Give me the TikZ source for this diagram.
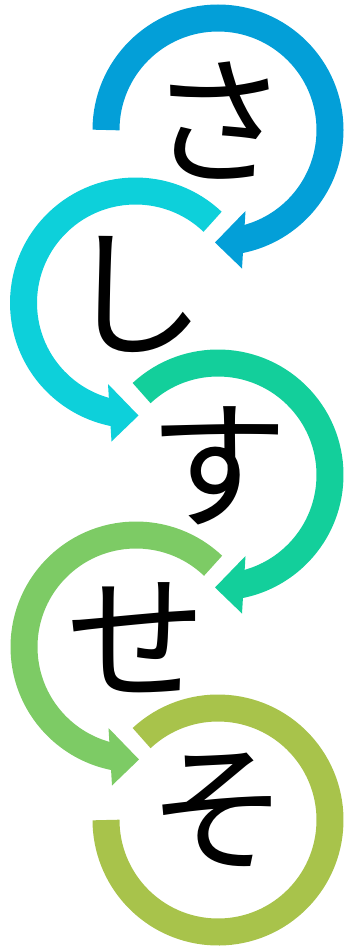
\documentclass[tikz,border=0pt]{standalone}
\usepackage{fontspec}
\usetikzlibrary{calc}
\newfontfamily\cjk{Noto Sans CJK JP}
\definecolor{cA}{HTML}{039FD8}
\definecolor{cB}{HTML}{0DD0DA}
\definecolor{cC}{HTML}{13CF9B}
\definecolor{cD}{HTML}{7DCB65}
\definecolor{cE}{HTML}{A8C34B}
\tikzset{
  ring/.style={line width=27pt, line cap=butt},
  kana/.style={font=\cjk\fontsize{140pt}{140pt}\selectfont, text=black, inner sep=0pt, yshift=9pt},
}
\begin{document}
\begin{tikzpicture}[x=1pt,y=1pt]
\useasboundingbox (0,0) rectangle (344,-946);
% centers
\coordinate (c1) at (218,-130);
\coordinate (c2) at (135.5,-303);
\coordinate (c3) at (218,-475);
\coordinate (c4) at (136,-647);
\coordinate (c5) at (218,-820);
% ring 1 (clockwise)
\draw[ring, cA] ($(c1)+(180:112)$) arc[start angle=180, end angle=-79, radius=112];
\fill[cA] ($(c1)+(-3,-112.5)$) -- ($(c1)+(27.5,-81)$) -- ($(c1)+(24,-138.5)$) -- cycle;
% ring 2 (counterclockwise)
\draw[ring, cB] ($(c2)+(46.5:112)$) arc[start angle=46.5, end angle=259, radius=112];
\fill[cB] ($(c2)+(3,-112.5)$) -- ($(c2)+(-27.5,-81)$) -- ($(c2)+(-24,-138.5)$) -- cycle;
% ring 3 (clockwise)
\draw[ring, cC] ($(c3)+(133:112)$) arc[start angle=133, end angle=-79, radius=112];
\fill[cC] ($(c3)+(-3,-112.5)$) -- ($(c3)+(27.5,-81)$) -- ($(c3)+(24,-138.5)$) -- cycle;
% ring 4 (counterclockwise)
\draw[ring, cD] ($(c4)+(46.5:112)$) arc[start angle=46.5, end angle=259, radius=112];
\fill[cD] ($(c4)+(3,-112.5)$) -- ($(c4)+(-27.5,-81)$) -- ($(c4)+(-24,-138.5)$) -- cycle;
% ring 5
\draw[ring, cE] ($(c5)+(133:112)$) arc[start angle=133, end angle=-180, radius=112];
% letters
\node[kana] (k1) at (c1) {さ};
\node[kana] (k2) at (c2) {し};
\node[kana] (k3) at (c3) {す};
\node[kana] (k4) at (c4) {せ};
\node[kana] (k5) at (c5) {そ};
\end{tikzpicture}
\end{document}
